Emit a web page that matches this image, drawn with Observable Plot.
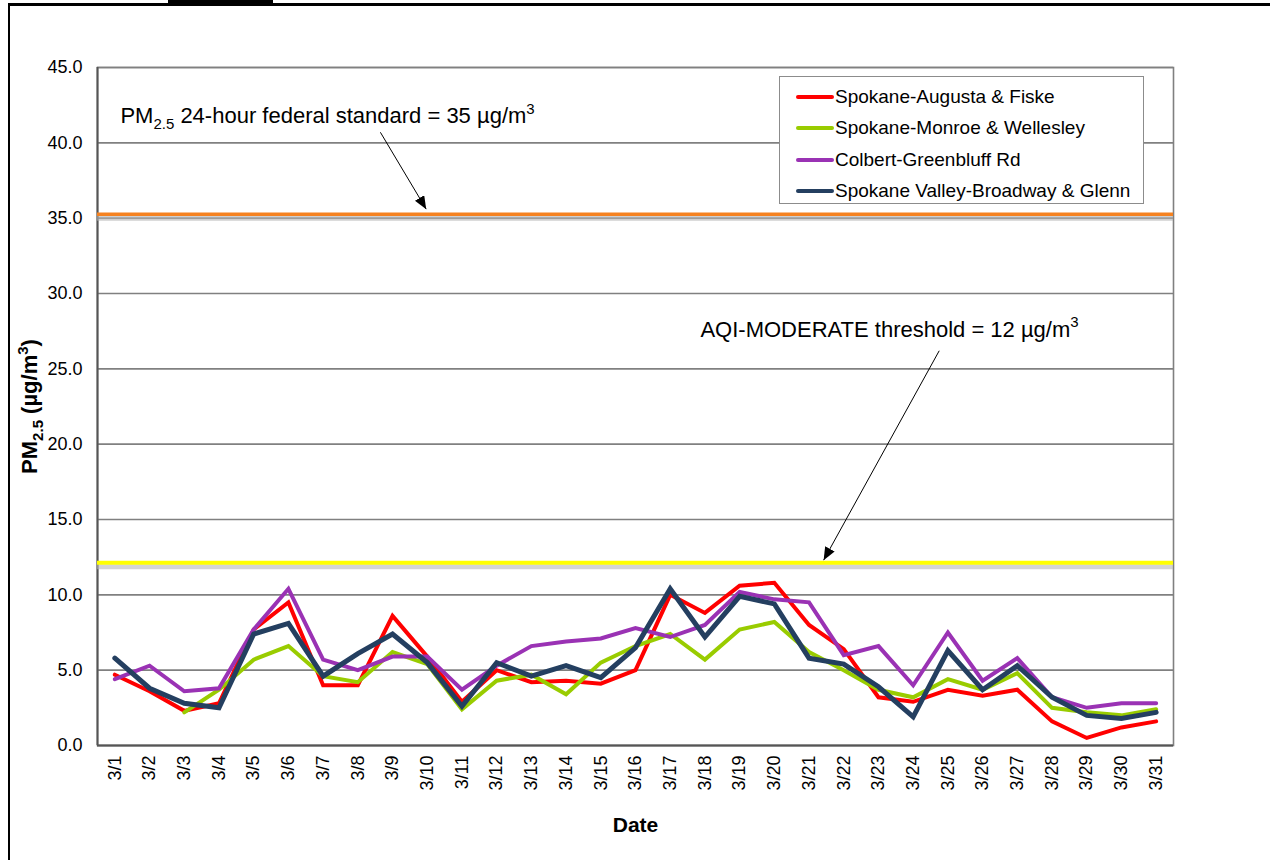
<!DOCTYPE html>
<html>
<head>
<meta charset="utf-8">
<script src="https://cdn.jsdelivr.net/npm/d3@7"></script>
<script src="https://cdn.jsdelivr.net/npm/@observablehq/plot@0.6"></script>
<style>
  html, body { margin: 0; padding: 0; background: #fff; }
  #wrap { position: relative; width: 1270px; height: 860px; overflow: hidden; font-family: "Liberation Sans", Arial, sans-serif; }
  #frame { position: absolute; left: 8px; top: 3px; width: 1270px; height: 870px; border-left: 2px solid #000; border-top: 3px solid #000; box-sizing: border-box; }
  #tag { position: absolute; left: 168px; top: 0; width: 105px; height: 5px; background: #000; }
  #chart { position: absolute; left: 0; top: 0; }
  #legend { position: absolute; left: 779px; top: 76px; width: 365px; height: 128px; border: 1px solid #8c8c8c; background: #fff; box-sizing: border-box; padding-top: 4px; }
  .lg-row { height: 31.5px; display: flex; align-items: center; font-size: 19px; color: #000; }
  .lg-sw { width: 38px; height: 4px; margin-left: 16px; margin-right: 1px; border-radius: 2px; }
</style>
</head>
<body>
<div id="wrap">
  <div id="frame"></div>
  <div id="tag"></div>
  <div id="chart"></div>
  <div id="legend"></div>
</div>
<script>
// ---- data ----
const dates = ["3/1","3/2","3/3","3/4","3/5","3/6","3/7","3/8","3/9","3/10","3/11","3/12","3/13","3/14","3/15","3/16","3/17","3/18","3/19","3/20","3/21","3/22","3/23","3/24","3/25","3/26","3/27","3/28","3/29","3/30","3/31"];
const seriesNames = ["Spokane-Augusta & Fiske", "Spokane-Monroe & Wellesley", "Colbert-Greenbluff Rd", "Spokane Valley-Broadway & Glenn"];
const seriesColors = ["#ff0000", "#99cc00", "#9a32b4", "#243f60"];
const augustaFiske      = [4.7, 3.6, 2.3, 2.8, 7.7, 9.5, 4.0, 4.0, 8.6, 5.9, 2.9, 5.0, 4.2, 4.3, 4.1, 5.0, 10.0, 8.8, 10.6, 10.8, 8.0, 6.4, 3.2, 2.9, 3.7, 3.3, 3.7, 1.6, 0.5, 1.2, 1.6];
const monroeWellesley   = [null, null, 2.2, 3.7, 5.7, 6.6, 4.6, 4.2, 6.2, 5.4, 2.4, 4.3, 4.7, 3.4, 5.5, 6.6, 7.4, 5.7, 7.7, 8.2, 6.2, 5.0, 3.7, 3.2, 4.4, 3.7, 4.8, 2.5, 2.2, 2.0, 2.4];
const colbertGreenbluff = [4.4, 5.3, 3.6, 3.8, 7.7, 10.4, 5.7, 5.0, 5.9, 5.9, 3.7, 5.3, 6.6, 6.9, 7.1, 7.8, 7.2, 8.0, 10.2, 9.7, 9.5, 6.0, 6.6, 4.0, 7.5, 4.3, 5.8, 3.2, 2.5, 2.8, 2.8];
const valleyBroadwayGlenn = [5.8, 3.8, 2.8, 2.5, 7.4, 8.1, 4.6, 6.1, 7.4, 5.5, 2.6, 5.5, 4.6, 5.3, 4.5, 6.5, 10.4, 7.2, 9.9, 9.4, 5.8, 5.4, 3.9, 1.9, 6.3, 3.7, 5.3, 3.2, 2.0, 1.8, 2.2];
const yTicks = [0, 5, 10, 15, 20, 25, 30, 35, 40, 45];
const federalStandard = 35;
const aqiModerate = 12;

const seriesValues = [augustaFiske, monroeWellesley, colbertGreenbluff, valleyBroadwayGlenn];
const rows = seriesNames.flatMap((name, s) =>
  dates.map((date, i) => ({series: name, day: i + 1, date, value: seriesValues[s][i]})));

const FONT = "'Liberation Sans', Arial, sans-serif";

const lineMarks = seriesNames.map((name, s) =>
  Plot.line(rows.filter(r => r.series === name), {
    x: "day", y: "value", stroke: seriesColors[s],
    strokeWidth: s === 3 ? 5 : 4, strokeLinejoin: "miter", strokeMiterlimit: 3
  }));

const plot = Plot.plot({
  width: 1270,
  height: 860,
  marginLeft: 97,
  marginRight: 97,
  marginTop: 67,
  marginBottom: 115,
  style: {fontFamily: FONT, background: "transparent", color: "#000"},
  x: {domain: [0.5, dates.length + 0.5]},
  y: {domain: [0, 45]},
  marks: [
    Plot.gridY(yTicks, {stroke: "#808080", strokeOpacity: 1, strokeWidth: 1.6}),
    Plot.frame({stroke: "#808080", strokeWidth: 1.6}),
    Plot.ruleY([0], {stroke: "#555", strokeWidth: 2}),
    Plot.ruleX([0.5], {stroke: "#555", strokeWidth: 2}),
    // thresholds with soft shadow
    Plot.ruleY([federalStandard], {stroke: "#b0b0b0", strokeWidth: 5, strokeOpacity: 0.6, dy: 0}),
    Plot.ruleY([federalStandard], {stroke: "#f58220", strokeWidth: 3.5, dy: -4}),
    Plot.ruleY([aqiModerate], {stroke: "#b8b8b8", strokeWidth: 5, strokeOpacity: 0.6, dy: 2}),
    Plot.ruleY([aqiModerate], {stroke: "#ffff00", strokeWidth: 4, dy: -2}),
    Plot.axisY(yTicks, {
      tickSize: 0, tickPadding: 15, fontSize: 18,
      tickFormat: d => d.toFixed(1),
      label: "PM2.5 (µg/m3)", labelAnchor: "center", labelOffset: 76
    }),
    Plot.axisX(d3.range(1, dates.length + 1), {
      tickSize: 0, tickPadding: 10, fontSize: 18, tickRotate: -90,
      tickFormat: d => dates[d - 1],
      label: "Date", labelAnchor: "center", labelOffset: 86
    }),
    ...lineMarks,
    // annotations
    Plot.text([{x: 1.16, y: 41.8}], {
      x: "x", y: "y", text: () => "PM2.5 24-hour federal standard = 35 µg/m3",
      textAnchor: "start", fontSize: 22, fill: "#000"
    }),
    Plot.link([{x1: 8.65, y1: 40.7, x2: 9.97, y2: 35.6}], {
      x1: "x1", y1: "y1", x2: "x2", y2: "y2", stroke: "#000", strokeWidth: 1
    }),
    Plot.text([{x: 17.87, y: 27.6}], {
      x: "x", y: "y", text: () => "AQI-MODERATE threshold = 12 µg/m3",
      textAnchor: "start", fontSize: 22, fill: "#000"
    }),
    Plot.link([{x1: 24.75, y1: 26.2, x2: 21.42, y2: 12.3}], {
      x1: "x1", y1: "y1", x2: "x2", y2: "y2", stroke: "#000", strokeWidth: 1
    })
  ]
});

document.getElementById("chart").appendChild(plot);

// ---- post-processing: sub/superscripts, arrowheads, bold labels ----
const svg = d3.select(plot);

function richText(textNode, parts, fs) {
  const t = d3.select(textNode);
  t.text(null);
  let shift = 0;
  for (const [str, kind] of parts) {
    const sp = t.append("tspan").text(str);
    let target = 0;
    if (kind === "sub") { target = 0.28 * fs; sp.attr("font-size", Math.round(fs * 0.7)); }
    else if (kind === "sup") { target = -0.42 * fs; sp.attr("font-size", Math.round(fs * 0.7)); }
    if (target !== shift) { sp.attr("dy", target - shift); shift = target; }
  }
}

const textGroups = svg.selectAll("g[aria-label='text']").nodes();
if (textGroups[0]) d3.select(textGroups[0]).selectAll("text").each(function () {
  richText(this, [["PM", ""], ["2.5", "sub"], [" 24-hour federal standard = 35 µg/m", ""], ["3", "sup"]], 22);
});
if (textGroups[1]) d3.select(textGroups[1]).selectAll("text").each(function () {
  richText(this, [["AQI-MODERATE threshold = 12 µg/m", ""], ["3", "sup"]], 22);
});

// y-axis label
svg.selectAll("g[aria-label='y-axis label'] text").each(function () {
  d3.select(this).attr("font-weight", "bold").attr("font-size", 22);
  richText(this, [["PM", ""], ["2.5", "sub"], [" (µg/m", ""], ["3", "sup"], [")", ""]], 22);
});
svg.selectAll("g[aria-label='x-axis label'] text").each(function () {
  d3.select(this).attr("font-weight", "bold").attr("font-size", 21).text("Date");
});

// filled arrowheads
const defs = svg.append("defs");
defs.append("marker")
  .attr("id", "ahead")
  .attr("viewBox", "0 0 12 10")
  .attr("refX", 12).attr("refY", 5)
  .attr("markerWidth", 13).attr("markerHeight", 11)
  .attr("markerUnits", "userSpaceOnUse")
  .attr("orient", "auto")
  .append("path").attr("d", "M0,0L12,5L0,10Z").attr("fill", "#000");
svg.selectAll("g[aria-label='link'] path")
  .attr("marker-end", "url(#ahead)");

// legend
const legend = d3.select("#legend");
seriesNames.forEach((name, s) => {
  const row = legend.append("div").attr("class", "lg-row");
  row.append("div").attr("class", "lg-sw").style("background", seriesColors[s]);
  row.append("span").text(name);
});
</script>
</body>
</html>
